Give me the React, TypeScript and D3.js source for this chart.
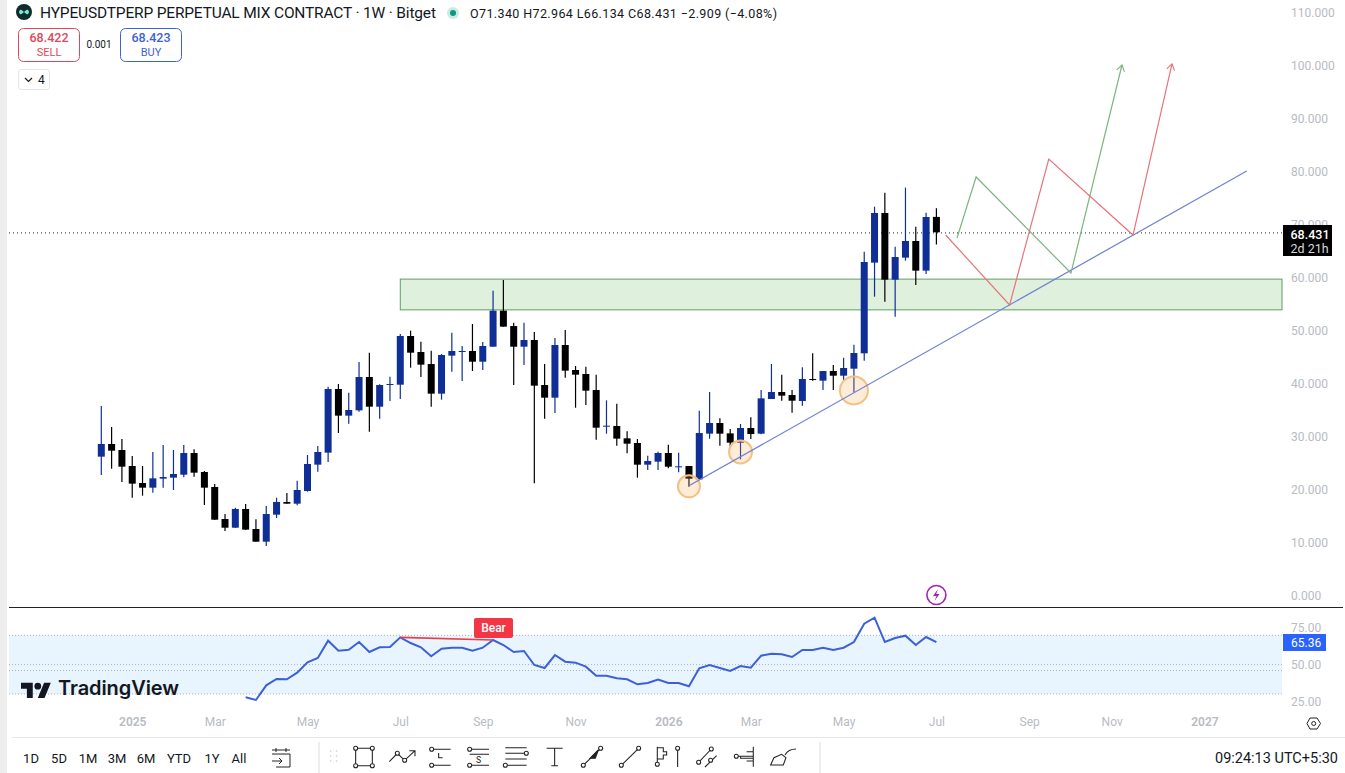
import { useEffect, useRef } from "react";
import * as d3 from "d3";

// Weekly candles (oldest first)
const opens = [26.10,28.49,27.36,24.34,21.13,20.25,21.95,22.14,22.70,26.79,23.21,20.38,14.34,12.70,16.23,12.45,10.06,15.16,17.55,17.23,19.62,24.59,26.86,38.87,33.84,34.84,41.13,35.53,39.62,39.68,48.87,45.85,43.58,37.99,45.16,45.91,46.04,44.02,46.85,53.65,50.75,46.85,48.11,39.62,37.23,47.17,42.45,41.70,38.68,31.76,31.89,29.56,28.68,24.59,25.16,26.79,24.15,24.34,21.82,30.44,32.45,30.50,28.74,31.51,30.44,36.98,38.30,37.73,36.60,40.75,40.44,42.26,41.38,42.70,45.60,62.71,72.08,59.50,63.65,66.79,61.20,71.34];
const highs = [35.66,31.70,29.43,26.23,24.34,26.98,28.30,27.36,28.30,27.48,23.40,20.94,15.28,16.48,17.17,14.28,16.79,18.36,19.25,21.57,26.42,28.11,39.31,39.81,38.18,43.96,45.72,39.75,41.19,49.24,49.87,47.80,46.10,45.47,49.50,46.98,51.13,47.73,57.42,59.43,51.38,51.38,49.62,43.58,48.49,50.00,43.21,43.08,41.57,36.73,36.10,30.88,29.43,26.29,27.04,28.36,26.85,24.34,34.78,38.30,33.33,31.32,32.26,33.52,38.68,43.58,41.57,38.68,42.95,45.59,42.26,43.39,44.78,47.23,64.78,73.27,75.91,65.72,76.86,69.50,72.14,72.964];
const lows = [22.64,23.84,21.32,18.36,18.74,19.31,20.25,19.81,22.20,22.33,16.98,14.15,12.08,12.64,12.26,10.06,9.25,14.53,17.23,16.92,19.50,23.27,25.09,30.57,32.33,34.59,30.82,33.27,36.60,36.98,42.89,41.13,35.53,36.85,42.14,40.38,42.26,42.45,46.85,50.63,39.62,43.40,21.07,33.27,34.34,41.00,35.34,35.85,29.31,30.44,28.18,26.73,22.14,23.58,23.58,23.90,23.14,20.44,21.82,29.49,28.17,27.67,25.59,29.43,30.31,36.98,36.66,34.40,35.72,40.44,38.68,38.68,40.56,38.24,44.22,56.29,55.35,52.52,63.08,58.49,60.57,66.134];
const closes = [28.49,27.23,24.21,21.01,20.25,22.01,22.26,22.83,26.79,23.08,20.25,14.21,12.70,16.23,12.33,10.06,15.28,17.55,17.23,19.81,24.72,26.98,38.87,33.84,34.91,41.13,35.53,39.62,39.81,48.87,45.72,43.46,37.99,45.28,46.04,46.04,44.02,46.98,53.65,50.63,46.85,48.11,39.50,37.23,47.17,42.33,41.57,38.55,31.57,31.95,29.50,28.55,24.59,25.28,26.79,24.21,24.28,21.95,30.56,32.45,30.44,28.74,31.51,30.37,37.10,38.30,37.61,36.66,40.75,40.56,42.26,41.38,42.83,45.66,62.83,72.08,59.50,63.77,66.79,61.20,71.32,68.431];

// RSI starts at bar 14
const rsiStart = 14;
const rsiValues = [27.73,25.91,35.91,40.22,39.99,44.54,51.58,54.53,66.34,59.53,60.21,65.43,58.62,61.80,62.03,68.61,64.75,61.80,55.67,60.89,61.57,61.57,59.53,61.57,66.80,63.39,58.62,59.30,49.76,47.72,56.58,52.03,51.35,48.63,42.49,42.49,40.68,39.99,36.59,37.50,39.77,37.50,37.50,35.22,47.49,49.76,47.72,45.67,49.08,47.94,56.12,57.48,57.03,55.21,59.98,59.98,61.57,59.98,61.57,65.43,77.93,82.02,65.43,68.16,69.75,63.39,68.84,65.36];

const priceTicks = [0, 10, 20, 30, 40, 50, 60, 70, 80, 90, 100, 110];
const rsiTicks = [25, 50, 75];
const timeTickBars = [3, 11, 20, 29, 37, 46, 55, 63, 72, 81, 90, 98, 107];
const timeTickLabels = ["2025", "Mar", "May", "Jul", "Sep", "Nov", "2026", "Mar", "May", "Jul", "Sep", "Nov", "2027"];
const rangeLabels = ["1D", "5D", "1M", "3M", "6M", "YTD", "1Y", "All"];

const lastPrice = 68.431;
const zone = { from: 29, top: 59.6, bottom: 53.8 };

// User drawings, as [bar, price]
const trendLine: [number, number][] = [[57, 20.6], [111.1, 80]];
const greenPath: [number, number][] = [[83, 67.36], [84.85, 78.87], [94.05, 60.75], [99, 100]];
const redPath: [number, number][] = [[81.9, 67.92], [88.1, 54.72], [91.9, 82.26], [100.07, 67.92], [103.85, 100.2]];
const touchCircles: [number, number, number][] = [[57, 20.5, 11], [62, 27, 11.5], [73, 38.6, 14]];

const textFont = "Roboto, sans-serif";
const grey = "#b8bbc2";
const upColor = "#0f2f96";
const downColor = "#000000";

export default function App() {
  const ref = useRef<SVGSVGElement>(null);

  useEffect(() => {
    const svg = d3.select(ref.current);
    svg.selectAll("*").remove();
    svg.style("font-family", textFont);

    const x = d3.scaleLinear().domain([0, 81]).range([101.3, 936.4]);
    const y = d3.scaleLinear().domain([0, 110]).range([595, 12]);
    const rsiY = d3.scaleLinear().domain([25, 75]).range([701.3, 628]);

    const plotLeft = 9;
    const plotRight = 1282;

    svg.append("rect").attr("width", 1345).attr("height", 773).attr("fill", "#fff");
    svg.append("rect").attr("width", 7).attr("height", 773).attr("fill", "#eeeeee");

    const defs = svg.append("defs");
    ["#7cb57f", "#e8737b"].forEach((c, i) => {
      defs
        .append("marker")
        .attr("id", "head" + i)
        .attr("viewBox", "-8 -8 16 16")
        .attr("markerUnits", "userSpaceOnUse")
        .attr("markerWidth", 16)
        .attr("markerHeight", 16)
        .attr("orient", "auto")
        .append("path")
        .attr("d", "M-6,-4L0,0L-6,4")
        .attr("fill", "none")
        .attr("stroke", c)
        .attr("stroke-width", 1.1);
    });

    // Price axis
    const priceAxis = d3
      .axisRight(y)
      .tickValues(priceTicks)
      .tickSize(0)
      .tickFormat((d) => d3.format(".3f")(d as number));
    const pa = svg.append("g").attr("transform", "translate(1282,1)").call(priceAxis);
    pa.select(".domain").remove();
    pa.selectAll("text").attr("x", 9).attr("fill", grey).style("font-size", "12px").style("font-family", textFont);

    // Zone
    svg
      .append("rect")
      .attr("x", x(zone.from))
      .attr("y", y(zone.top))
      .attr("width", plotRight - x(zone.from))
      .attr("height", y(zone.bottom) - y(zone.top))
      .attr("fill", "#dff0dd")
      .attr("stroke", "#5f9f63")
      .attr("stroke-width", 1);

    // Last price line
    svg
      .append("line")
      .attr("x1", plotLeft)
      .attr("x2", plotRight)
      .attr("y1", y(lastPrice) + 0.6)
      .attr("y2", y(lastPrice) + 0.6)
      .attr("stroke", "#222")
      .attr("stroke-dasharray", "1 3");

    // Candles
    const bars = d3.range(opens.length);
    const g = svg.append("g");
    g.selectAll("line")
      .data(bars)
      .enter()
      .append("line")
      .attr("x1", (i) => x(i))
      .attr("x2", (i) => x(i))
      .attr("y1", (i) => y(highs[i]))
      .attr("y2", (i) => y(lows[i]))
      .attr("stroke", (i) => (closes[i] >= opens[i] ? upColor : downColor))
      .attr("stroke-width", 1.2);
    g.selectAll("rect")
      .data(bars)
      .enter()
      .append("rect")
      .attr("x", (i) => x(i) - 3.5)
      .attr("width", 7)
      .attr("y", (i) => y(Math.max(opens[i], closes[i])))
      .attr("height", (i) => Math.max(1, Math.abs(y(opens[i]) - y(closes[i]))))
      .attr("fill", (i) => (closes[i] >= opens[i] ? upColor : downColor));

    // Drawings
    const line = d3
      .line<[number, number]>()
      .x((d) => x(d[0]))
      .y((d) => y(d[1]));
    touchCircles.forEach(([b, p, r]) => {
      svg
        .append("circle")
        .attr("cx", x(b))
        .attr("cy", y(p))
        .attr("r", r)
        .attr("fill", "#f7a948")
        .attr("fill-opacity", 0.22)
        .attr("stroke", "#f5c084")
        .attr("stroke-width", 2);
    });
    svg
      .append("path")
      .attr("d", line(trendLine))
      .attr("fill", "none")
      .attr("stroke", "#6d80d4")
      .attr("stroke-width", 1.2);
    svg
      .append("path")
      .attr("d", line(greenPath))
      .attr("fill", "none")
      .attr("stroke", "#7cb57f")
      .attr("stroke-width", 1.2)
      .attr("marker-end", "url(#head0)");
    svg
      .append("path")
      .attr("d", line(redPath))
      .attr("fill", "none")
      .attr("stroke", "#e8737b")
      .attr("stroke-width", 1.2)
      .attr("marker-end", "url(#head1)");

    // Last price tag
    svg.append("rect").attr("x", 1283).attr("y", 225).attr("width", 49).attr("height", 31).attr("fill", "#000");
    svg.append("text").attr("x", 1290.5).attr("y", 238.5).attr("fill", "#fff").style("font-size", "12.5px").style("font-weight", 500).text("68.431");
    svg.append("text").attr("x", 1290.5).attr("y", 252.5).attr("fill", "#d8d8d8").style("font-size", "12.5px").text("2d 21h");

    // Event marker
    svg.append("circle").attr("cx", 936.4).attr("cy", 595).attr("r", 9.5).attr("fill", "#fff").attr("stroke", "#9c27b0").attr("stroke-width", 1.6);
    svg.append("path").attr("d", "M938,589L933,596H936.5L934.5,601L939.5,594H936.2Z").attr("fill", "#9c27b0");

    // RSI pane
    svg.append("line").attr("x1", plotLeft).attr("x2", 1343).attr("y1", 607.5).attr("y2", 607.5).attr("stroke", "#222");
    svg
      .append("rect")
      .attr("x", plotLeft)
      .attr("width", plotRight - plotLeft)
      .attr("y", rsiY(70))
      .attr("height", rsiY(30) - rsiY(70))
      .attr("fill", "#e8f4fe");
    [70, 50, 46, 30].forEach((v) => {
      svg
        .append("line")
        .attr("x1", plotLeft)
        .attr("x2", plotRight)
        .attr("y1", rsiY(v))
        .attr("y2", rsiY(v))
        .attr("stroke", "#a9b3bd")
        .attr("stroke-dasharray", "1 2");
    });

    const rsiLine = d3
      .line<number>()
      .x((_, i) => x(rsiStart + i))
      .y((d) => rsiY(d));
    svg.append("path").attr("d", rsiLine(rsiValues)).attr("fill", "none").attr("stroke", "#3c60d8").attr("stroke-width", 2);

    // Bear divergence
    const bearA = 29;
    const bearB = 38;
    svg
      .append("line")
      .attr("x1", x(bearA))
      .attr("y1", rsiY(rsiValues[bearA - rsiStart]))
      .attr("x2", x(bearB))
      .attr("y2", rsiY(rsiValues[bearB - rsiStart]))
      .attr("stroke", "#ef3b4a")
      .attr("stroke-width", 1.6);
    svg.append("rect").attr("x", 474).attr("y", 618).attr("width", 39).attr("height", 20).attr("rx", 2).attr("fill", "#f23645");
    svg.append("text").attr("x", 493.5).attr("y", 632).attr("text-anchor", "middle").attr("fill", "#fff").style("font-size", "12px").style("font-weight", 500).text("Bear");

    // RSI axis
    const rsiAxis = d3
      .axisRight(rsiY)
      .tickValues(rsiTicks)
      .tickSize(0)
      .tickFormat((d) => d3.format(".2f")(d as number));
    const ra = svg.append("g").attr("transform", "translate(1282,0)").call(rsiAxis);
    ra.select(".domain").remove();
    ra.selectAll("text").attr("x", 9).attr("fill", grey).style("font-size", "12px").style("font-family", textFont);
    svg.append("rect").attr("x", 1283).attr("y", 634).attr("width", 43).attr("height", 17).attr("fill", "#2962ff");
    svg.append("text").attr("x", 1291).attr("y", 647).attr("fill", "#fff").style("font-size", "12px").text("65.36");

    // Time axis
    const timeAxis = d3
      .axisBottom(x)
      .tickValues(timeTickBars)
      .tickSize(0)
      .tickFormat((_, i) => timeTickLabels[i]);
    const ta = svg.append("g").attr("transform", "translate(0,715)").call(timeAxis);
    ta.select(".domain").remove();
    ta.selectAll("text")
      .attr("y", 0)
      .attr("dy", "0.9em")
      .attr("fill", grey)
      .style("font-size", "12px")
      .style("font-family", textFont)
      .style("font-weight", (_, i) => (timeTickLabels[i].length === 4 ? 600 : 400));

    // Settings hexagon
    svg.append("path").attr("d", "M1307,723.5L1310,718H1317L1320.5,723.5L1317,729H1310Z").attr("fill", "none").attr("stroke", "#222");
    svg.append("circle").attr("cx", 1313.7).attr("cy", 723.5).attr("r", 2).attr("fill", "none").attr("stroke", "#222");

    // TradingView logo
    const logo = svg.append("g").attr("transform", "translate(21,679.5) scale(0.84)");
    logo.append("path").attr("d", "M14 22H7V11H0V4h14v18zM28 22h-8l7.5-18h8L28 22z").attr("fill", "#131722");
    logo.append("circle").attr("cx", 20).attr("cy", 8).attr("r", 4).attr("fill", "#131722");
    svg.append("text").attr("x", 58).attr("y", 695).attr("fill", "#131722").style("font-family", "Inter, sans-serif").style("font-size", "20px").style("font-weight", 600).attr("textLength", 121).text("TradingView");

    // Header
    svg.append("circle").attr("cx", 24).attr("cy", 12).attr("r", 8).attr("fill", "#0e2b2e");
    svg.append("path").attr("d", "M19,12C20,8 22,10 24,12C26,14 28,16 29,12C28,8 26,10 24,12C22,14 20,16 19,12Z").attr("fill", "#7fe6cf");
    svg.append("text").attr("x", 40).attr("y", 18).attr("fill", "#131722").style("font-size", "15.5px").attr("textLength", 396).text("HYPEUSDTPERP PERPETUAL MIX CONTRACT · 1W · Bitget");
    svg.append("circle").attr("cx", 453).attr("cy", 13).attr("r", 6).attr("fill", "#c9ebe3");
    svg.append("circle").attr("cx", 453).attr("cy", 13).attr("r", 3).attr("fill", "#089981");
    svg.append("text").attr("x", 470).attr("y", 17.5).attr("fill", "#131722").style("font-size", "12.5px").attr("textLength", 307).text("O71.340 H72.964 L66.134 C68.431 −2.909 (−4.08%)");

    const box = (bx: number, c: string, v: string, s: string) => {
      svg.append("rect").attr("x", bx + 0.5).attr("y", 28.5).attr("width", 61).attr("height", 33).attr("rx", 5).attr("fill", "#fff").attr("stroke", c);
      svg.append("text").attr("x", bx + 31).attr("y", 42).attr("text-anchor", "middle").attr("fill", c).style("font-size", "12.5px").style("font-weight", 500).text(v);
      svg.append("text").attr("x", bx + 31).attr("y", 56).attr("text-anchor", "middle").attr("fill", c).style("font-size", "11px").text(s);
    };
    box(18, "#e0475a", "68.422", "SELL");
    box(120, "#3d62d8", "68.423", "BUY");
    svg.append("text").attr("x", 99).attr("y", 48).attr("text-anchor", "middle").attr("fill", "#131722").style("font-size", "10px").text("0.001");
    svg.append("rect").attr("x", 18.5).attr("y", 69.5).attr("width", 31).attr("height", 20).attr("rx", 3).attr("fill", "#fff").attr("stroke", "#e4e4e8");
    svg.append("path").attr("d", "M25,78L28.5,81.5L32,78").attr("fill", "none").attr("stroke", "#131722").attr("stroke-width", 1.2);
    svg.append("text").attr("x", 38).attr("y", 84).attr("fill", "#131722").style("font-size", "12px").text("4");

    // Bottom bar
    svg.append("line").attr("x1", 12).attr("x2", 1345).attr("y1", 737.5).attr("y2", 737.5).attr("stroke", "#e6e8ee");
    const rangeX = [31, 59, 88, 117, 146, 179, 212, 239];
    rangeLabels.forEach((t, i) => {
      svg.append("text").attr("x", rangeX[i]).attr("y", 762.5).attr("text-anchor", "middle").attr("fill", "#131722").style("font-size", "13px").text(t);
    });
    svg.append("path").attr("d", "M272,754H290V767H276M272,750H290M276,748V752M286,748V752M272,761H282M279,758L282,761L279,764").attr("fill", "none").attr("stroke", "#222").attr("stroke-width", 1);
    [319, 820].forEach((sx) => {
      svg.append("line").attr("x1", sx).attr("x2", sx).attr("y1", 742).attr("y2", 773).attr("stroke", "#eceef2").attr("stroke-width", 2);
    });
    svg.append("text").attr("x", 1338).attr("y", 763).attr("text-anchor", "end").attr("fill", "#131722").style("font-size", "14.5px").text("09:24:13 UTC+5:30");

    // Drawing tools row, laid out in 3x zoom units
    const tools = svg.append("g").attr("transform", "translate(320,735) scale(0.3333)").attr("fill", "none").attr("stroke", "#222").attr("stroke-width", 3.2);
    const dot = (cx: number, cy: number) => tools.append("circle").attr("cx", cx).attr("cy", cy).attr("r", 6).attr("fill", "#fff");
    const toolPaths = [
      "M107,40H157V92H107Z",
      "M208,80L232,55L254,76L285,47M268,47H285V64",
      "M342,43H392M342,91H392M356,54V68H368",
      "M456,43H507M449,58H507M456,91H507",
      "M556,38H620M556,55H612M556,72H620M562,91H620",
      "M680,40H728M704,40V92M694,92H714",
      "M790,91L842,40",
      "M904,91L956,40",
      "M1012,35V82M1012,38H1030V50H1040V60H1030V72H1012M1073,46V96",
      "M1136,82L1174,42M1155,96L1190,62",
      "M1243,64H1300M1300,35V95M1280,50H1300V78H1280M1262,64V70H1300",
      "M1352,90L1362,68L1385,58L1398,68L1390,90ZM1395,60Q1405,42 1428,42",
    ];
    toolPaths.forEach((d) => tools.append("path").attr("d", d));
    tools.append("path").attr("d", "M810,70L835,45L826,70Z").attr("fill", "#222");
    ([[107,40],[157,40],[107,92],[157,92],[232,55],[254,76],[335,43],[335,91],[449,43],[449,91],[619,55],[556,91],[790,91],[842,40],[904,91],[956,40],[1012,88],[1073,40],[1136,82],[1174,42],[1172,76],[1249,64]] as [number, number][]).forEach(([a, b]) => dot(a, b));
    tools.append("text").attr("x", 476).attr("y", 83).attr("text-anchor", "middle").attr("fill", "#222").attr("stroke", "none").style("font-size", "26px").text("S");
    d3.range(2).forEach((c) =>
      d3.range(3).forEach((r) => {
        tools.append("circle").attr("cx", 32 + c * 18).attr("cy", 48 + r * 15).attr("r", 2.5).attr("fill", "#ccc").attr("stroke", "none");
      })
    );
  }, []);

  return <svg ref={ref} width={1345} height={773} style={{ position: "absolute", left: 0, top: 0 }} />;
}
